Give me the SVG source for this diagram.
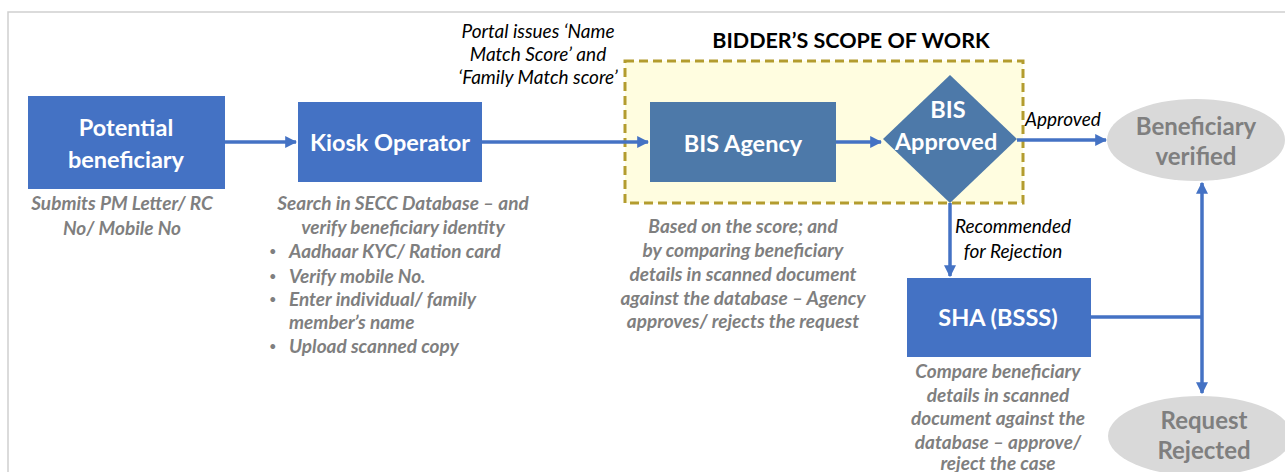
<svg xmlns="http://www.w3.org/2000/svg" width="1285" height="472" viewBox="0 0 1285 472">
<style>
.box{fill:#4472C4;}
.box2{fill:#4D79A9;}
.lbl{font-family:Lato,"Open Sans","Liberation Sans",sans-serif;font-weight:bold;fill:#FFFFFF;font-size:23.5px;text-anchor:middle;}
.oval{fill:#D9D9D9;}
.olbl{font-family:Lato,"Open Sans","Liberation Sans",sans-serif;font-weight:bold;fill:#7F7F7F;font-size:24px;text-anchor:middle;}
.desc{font-family:Lato,"Open Sans","Liberation Sans",sans-serif;font-weight:bold;font-style:italic;fill:#7F7F7F;font-size:19px;}
.bul{font-family:Lato,"Open Sans","Liberation Sans",sans-serif;fill:#7F7F7F;font-size:13px;}
.note{font-family:Lato,"Open Sans","Liberation Sans",sans-serif;font-style:italic;fill:#000000;font-size:19px;}
.c{text-anchor:middle;}
.conn{stroke:#4472C4;stroke-width:3.5;fill:none;}
</style>
<defs>
<marker id="ah" viewBox="0 0 10 10" refX="9" refY="5" markerWidth="12" markerHeight="12" markerUnits="userSpaceOnUse" orient="auto">
<path d="M0,0 L10,5 L0,10 Z" fill="#4472C4"/>
</marker>
</defs>
<rect width="1285" height="472" fill="#FFFFFF"/>
<g id="frame">
<path d="M8,472 V12 H1285" stroke="#D0D0D0" stroke-width="1.5" fill="none"/>
</g>
<g id="scope">
<rect x="625" y="61" width="398" height="142" fill="#FFFDE0" stroke="#B39C2E" stroke-width="3" stroke-dasharray="9,5"/>
<text x="851" y="48" font-family="Lato,'Open Sans','Liberation Sans',sans-serif" font-weight="bold" font-size="21.5" fill="#000" text-anchor="middle">BIDDER’S SCOPE OF WORK</text>
</g>
<g id="connectors">
<path class="conn" d="M225,142 H296" marker-end="url(#ah)"/>
<path class="conn" d="M482,142 H648" marker-end="url(#ah)"/>
<path class="conn" d="M836,142 H881" marker-end="url(#ah)"/>
<path class="conn" d="M1017,140 H1106" marker-end="url(#ah)"/>
<path class="conn" d="M950,203 V276" marker-end="url(#ah)"/>
<path class="conn" d="M1091,317 H1202"/>
<path class="conn" d="M1202,317 V183" marker-end="url(#ah)"/>
<path class="conn" d="M1202,317 V393" marker-end="url(#ah)"/>
</g>
<g id="potential">
<rect class="box" x="28" y="96" width="197" height="93"/>
<text class="lbl" x="126" y="136">Potential</text>
<text class="lbl" x="126" y="168">beneficiary</text>
<text class="desc c" x="122" y="210">Submits PM Letter/ RC</text>
<text class="desc c" x="122" y="235">No/ Mobile No</text>
</g>
<g id="kiosk">
<rect class="box" x="298" y="102" width="184" height="80"/>
<text class="lbl" x="390" y="151">Kiosk Operator</text>
<text class="desc c" x="403" y="210">Search in SECC Database – and</text>
<text class="desc c" x="403" y="234">verify beneficiary identity</text>
<text class="bul" x="269" y="256">•</text>
<text class="desc" x="289" y="258">Aadhaar KYC/ Ration card</text>
<text class="bul" x="269" y="281">•</text>
<text class="desc" x="289" y="283">Verify mobile No.</text>
<text class="bul" x="269" y="304">•</text>
<text class="desc" x="289" y="306">Enter individual/ family</text>
<text class="desc" x="289" y="329">member’s name</text>
<text class="bul" x="269" y="351">•</text>
<text class="desc" x="289" y="353">Upload scanned copy</text>
</g>
<g id="portal-note">
<text class="note c" x="538" y="38">Portal issues ‘Name</text>
<text class="note c" x="538" y="61">Match Score’ and</text>
<text class="note c" x="538" y="84">‘Family Match score’</text>
</g>
<g id="bis-agency">
<rect class="box2" x="650" y="102" width="186" height="80"/>
<text class="lbl" x="743" y="152">BIS Agency</text>
<text class="desc c" x="743" y="233">Based on the score; and</text>
<text class="desc c" x="743" y="257">by comparing beneficiary</text>
<text class="desc c" x="743" y="281">details in scanned document</text>
<text class="desc c" x="743" y="305">against the database – Agency</text>
<text class="desc c" x="743" y="328">approves/ rejects the request</text>
</g>
<g id="bis-approved">
<polygon class="box2" points="950,75 1017,139 950,203 883,139"/>
<text class="lbl" x="948" y="118">BIS</text>
<text class="lbl" x="946" y="150">Approved</text>
</g>
<g id="approved-label">
<text class="note" x="1025" y="126">Approved</text>
</g>
<g id="rejection-label">
<text class="note c" x="1013" y="233">Recommended</text>
<text class="note c" x="1013" y="258">for Rejection</text>
</g>
<g id="sha">
<rect class="box" x="907" y="278" width="184" height="79"/>
<text class="lbl" x="998" y="326">SHA (BSSS)</text>
<text class="desc c" x="998" y="378">Compare beneficiary</text>
<text class="desc c" x="998" y="402">details in scanned</text>
<text class="desc c" x="998" y="425">document against the</text>
<text class="desc c" x="998" y="449">database – approve/</text>
<text class="desc c" x="998" y="470">reject the case</text>
</g>
<g id="verified">
<ellipse class="oval" cx="1196" cy="140" rx="89" ry="41"/>
<text class="olbl" x="1196" y="135">Beneficiary</text>
<text class="olbl" x="1196" y="165">verified</text>
</g>
<g id="rejected">
<ellipse class="oval" cx="1200" cy="436" rx="92" ry="40"/>
<text class="olbl" x="1204" y="429">Request</text>
<text class="olbl" x="1204" y="459">Rejected</text>
</g>
</svg>
